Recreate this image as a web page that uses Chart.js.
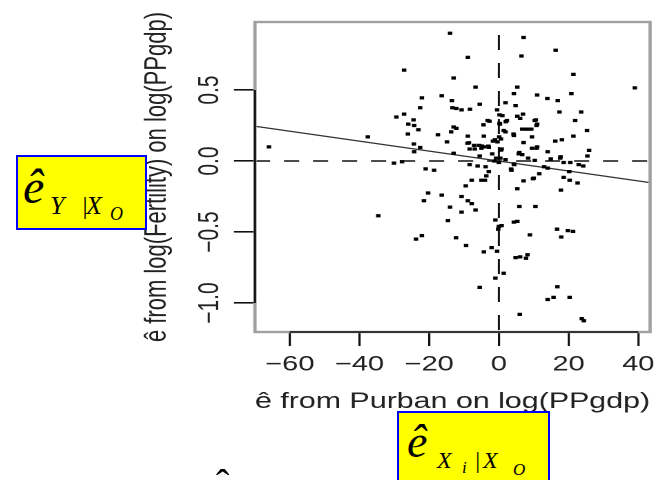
<!DOCTYPE html>
<html>
<head>
<meta charset="utf-8">
<script src="https://cdn.jsdelivr.net/npm/chart.js@4.4.1/dist/chart.umd.min.js"></script>
<style>
  body { margin: 0; width: 656px; height: 480px; overflow: hidden; background: #fff; position: relative; }
  /* the original R plot was pasted in stretched sideways, so the canvas is too */
  #wrap { position: absolute; left: 0; top: 0; width: 475px; height: 480px; transform: scaleX(1.3811); transform-origin: 0 0; }
  .note { position: absolute; background: #ffff00; border: 2px solid #0000ff; box-sizing: border-box;
          font-family: "Liberation Serif", serif; font-style: italic; color: #000; }
  .note span, .hat { position: absolute; line-height: 1; white-space: nowrap; }
  .hat { font-family: "Liberation Serif", serif; color: #000; }
</style>
</head>
<body>
<div id="wrap"><canvas id="avPlot"></canvas></div>

<div class="note" style="left:16px; top:155px; width:131px; height:75px;">
  <span style="left:5px; top:6px; font-size:48px;">ê</span>
  <span style="left:32px; top:36px; font-size:26px;">Y</span>
  <span style="left:63px; top:36px; font-size:26px;">|</span>
  <span style="left:68px; top:36px; font-size:26px;">X</span>
  <span style="left:92px; top:48px; font-size:18px;">O</span>
</div>

<div class="note" style="left:397px; top:411px; width:153px; height:80px;">
  <span style="left:8px; top:6px; font-size:46px;">ê</span>
  <span style="left:38px; top:35px; font-size:24px;">X</span>
  <span style="left:63px; top:46px; font-size:17px;">i</span>
  <span style="left:75px; top:35px; font-size:24px;">|</span>
  <span style="left:84px; top:35px; font-size:24px;">X</span>
  <span style="left:114px; top:48px; font-size:17px;">O</span>
</div>

<span class="hat" style="left:216px; top:464px; font-size:40px;">ˆ</span>

<script>
// residuals of log(Fertility) and Purban, both on log(PPgdp)
const residX = [
  -14.0, 7.1, -8.9, 6.5, 16.3, -27.2, -13.0, 21.4, -6.7, 5.3,
  39.0, -16.4, -22.1, 4.3, 11.0, 20.8, 13.9, 16.9, -13.5, -5.5,
  1.9, 4.8, -22.6, -13.3, -12.2, -10.7, -8.3, 17.4, 23.6, -27.2,
  -29.4, -0.5, 0.2, 1.0, 5.3, 6.9, 6.1, -24.5, -26.0, -24.3,
  -23.1, -26.1, -3.2, -2.7, -4.4, 0.2, 2.3, 10.3, 11.0, 21.9,
  -13.0, -12.2, -13.7, -17.5, 1.4, 1.9, 4.2, 6.7, 8.4, 9.3,
  9.5, 25.3, 21.4, -8.9, -4.3, -37.6, 0.6, -1.1, -1.7, -0.4,
  16.2, 18.1, -14.9, -9.0, -7.1, -5.7, -4.3, -3.0, -8.4, -6.9,
  -5.0, 0.8, 7.1, 5.9, 9.5, 11.0, 14.0, 25.9, 25.4, -24.4,
  -24.3, -22.6, -66.0, -13.0, -5.5, -1.9, -0.8, 0.4, 1.9, 6.7,
  8.4, 10.3, 14.9, 17.7, 18.6, 20.5, 22.9, 24.2, -30.1, -27.8,
  -8.4, -6.1, -3.8, 0.0, 4.4, -1.3, -21.0, -18.6, -2.9, 3.6,
  11.6, 14.0, 20.2, 18.6, 20.3, 22.6, -3.6, -7.8, -5.0, -4.0,
  7.1, 9.8, -9.5, 5.3, 17.8, -20.3, -16.4, -10.7, -21.5, -8.9,
  -7.8, -14.0, -10.7, -6.7, 5.9, 10.5, -34.6, -14.6, -1.0, 4.3,
  5.3, 0.0, 0.8, -0.2, 16.7, 19.8, 21.3, 17.9, 8.9, -23.8,
  -22.1, -12.3, -9.4, -4.3, -2.1, -0.5, 4.8, 6.1, 7.8, 8.2,
  -1.0, 1.4, -5.5, 16.8, 14.0, 15.7, 20.3, 6.0, 23.8, 24.4,
  2.0, 0.3, 10.6, 10.8, 7.6, 0.1, 4.3, 0.6, 10.8, 5.7,
  17.6, 4.3, 13.0, 3.5, 10.0, -8.6, -4.9, -2.9
];
const residY = [
  0.90, 0.87, 0.73, 0.74, 0.78, 0.64, 0.585, 0.61, 0.52, 0.52,
  0.515, 0.46, 0.445, 0.475, 0.465, 0.475, 0.44, 0.425, 0.425, 0.40,
  0.41, 0.39, 0.375, 0.375, 0.37, 0.36, 0.365, 0.345, 0.345, 0.33,
  0.31, 0.36, 0.325, 0.32, 0.315, 0.33, 0.30, 0.29, 0.26, 0.25,
  0.22, 0.19, 0.285, 0.28, 0.255, 0.265, 0.285, 0.285, 0.26, 0.285,
  0.24, 0.23, 0.205, 0.185, 0.215, 0.205, 0.19, 0.225, 0.225, 0.225,
  0.17, 0.215, 0.175, 0.175, 0.175, 0.17, 0.155, 0.15, 0.14, 0.135,
  0.14, 0.15, 0.135, 0.125, 0.11, 0.11, 0.10, 0.105, 0.085, 0.085,
  0.09, 0.085, 0.13, 0.06, 0.09, 0.10, 0.065, 0.075, 0.035, 0.12,
  0.065, 0.095, 0.10, 0.055, 0.035, 0.05, 0.02, 0.02, 0.01, 0.045,
  0.02, 0.005, 0.015, 0.03, -0.01, -0.01, -0.025, -0.035, -0.015, -0.005,
  -0.025, -0.035, -0.04, -0.01, -0.025, 0.0, -0.055, -0.065, -0.075, -0.065,
  -0.09, -0.05, -0.075, -0.115, -0.135, -0.155, -0.105, -0.135, -0.135, -0.135,
  -0.14, -0.125, -0.175, -0.195, -0.205, -0.225, -0.24, -0.25, -0.28, -0.28,
  -0.30, -0.325, -0.36, -0.345, -0.32, -0.32, -0.385, -0.42, -0.415, -0.43,
  -0.425, -0.46, -0.455, -0.48, -0.48, -0.49, -0.495, -0.535, -0.52, -0.55,
  -0.525, -0.54, -0.595, -0.64, -0.61, -0.635, -0.68, -0.675, -0.685, -0.66,
  -0.825, -0.79, -0.89, -0.885, -0.975, -0.96, -0.96, -1.08, -1.11, -1.125,
  0.277, 0.26, 0.29, 0.25, 0.225, 0.17, 0.18, 0.077, 0.09, 0.05,
  0.02, -0.02, -0.04, -0.056, -0.12, 0.129, 0.106, 0.096
];

const fitX = [-70, 43.4];
const fitY = [0.245, -0.152];

const xTickValues = [-60, -40, -20, 0, 20, 40];
const yTickValues = [-1.0, -0.5, 0.0, 0.5];
const xRange = [-70, 43.4];
const yRange = [-1.204, 0.979];

const fontFamily = '"Liberation Sans", Arial, sans-serif';

function fmt(v, digits) {
    return (v < 0 ? '\u2212' : '') + Math.abs(v).toFixed(digits);
}

// grey box round the plot, black axis lines only from first to last tick (R style)
const framePlugin = {
    id: 'frame',
    afterDatasetsDraw(chart) {
        const { ctx, chartArea: a, scales: { x, y } } = chart;
        ctx.save();
        ctx.strokeStyle = '#a0a0a0';
        ctx.lineWidth = 2.4;
        ctx.strokeRect(a.left, a.top, a.right - a.left, a.bottom - a.top);
        ctx.strokeStyle = '#111';
        ctx.lineWidth = 1.6;
        ctx.beginPath();
        ctx.moveTo(a.left, y.getPixelForValue(yTickValues[0]));
        ctx.lineTo(a.left, y.getPixelForValue(yTickValues[yTickValues.length - 1]));
        ctx.moveTo(x.getPixelForValue(xTickValues[0]), a.bottom);
        ctx.lineTo(x.getPixelForValue(xTickValues[xTickValues.length - 1]), a.bottom);
        ctx.stroke();
        ctx.restore();
    }
};

const ctx = document.getElementById('avPlot').getContext('2d');
new Chart(ctx, {
    type: 'scatter',
    data: {
        datasets: [
            {
                label: 'residuals',
                data: residX.map((v, i) => ({ x: v, y: residY[i] })),
                pointStyle: 'rect',
                pointRadius: 2.3,
                backgroundColor: '#000',
                borderWidth: 0
            },
            {
                label: 'fit',
                data: fitX.map((v, i) => ({ x: v, y: fitY[i] })),
                showLine: true,
                pointRadius: 0,
                borderColor: '#333',
                borderWidth: 1.2
            },
            {
                label: 'zero y',
                data: [{ x: xRange[0], y: 0 }, { x: xRange[1], y: 0 }],
                showLine: true,
                pointRadius: 0,
                borderColor: '#111',
                borderWidth: 1.5,
                borderDash: [11, 10]
            },
            {
                label: 'zero x',
                data: [{ x: 0, y: yRange[1] }, { x: 0, y: yRange[0] }],
                showLine: true,
                pointRadius: 0,
                borderColor: '#111',
                borderWidth: 1.5,
                borderDash: [15, 13],
                borderDashOffset: 15
            }
        ]
    },
    options: {
        responsive: true,
        maintainAspectRatio: false,
        devicePixelRatio: 2,
        animation: false,
        layout: { padding: { left: 0, right: 4.3, top: 22, bottom: 0 } },
        plugins: { legend: { display: false }, tooltip: { enabled: false } },
        scales: {
            x: {
                type: 'linear',
                min: xRange[0],
                max: xRange[1],
                afterBuildTicks: s => { s.ticks = xTickValues.map(v => ({ value: v })); },
                afterFit: s => { s.height = 148; s.paddingLeft = 0; s.paddingRight = 0; },
                grid: { drawOnChartArea: false, drawTicks: true, tickLength: 14, color: '#111', lineWidth: 1.6 },
                border: { display: false },
                ticks: {
                    font: { family: fontFamily, size: 21 },
                    color: '#222',
                    padding: 6,
                    maxRotation: 0,
                    autoSkip: false,
                    callback: v => fmt(v, 0)
                },
                title: {
                    display: true,
                    text: 'ê from Purban on log(PPgdp)',
                    font: { family: fontFamily, size: 22 },
                    color: '#222',
                    padding: { top: 0, bottom: 65 }
                }
            },
            y: {
                type: 'linear',
                min: yRange[0],
                max: yRange[1],
                afterBuildTicks: s => { s.ticks = yTickValues.map(v => ({ value: v })); },
                afterFit: s => { s.width = 184.6; s.paddingTop = 0; s.paddingBottom = 0; },
                grid: { drawOnChartArea: false, drawTicks: true, tickLength: 15.2, color: '#111', lineWidth: 1.6 },
                border: { display: false },
                ticks: {
                    font: { family: fontFamily, size: 21 },
                    color: '#222',
                    minRotation: 90,
                    maxRotation: 90,
                    crossAlign: 'center',
                    padding: -3.5,
                    autoSkip: false,
                    callback: v => fmt(v, 1)
                },
                title: {
                    display: true,
                    text: 'ê from log(Fertility) on log(PPgdp)',
                    font: { family: fontFamily, size: 22 },
                    color: '#222',
                    padding: { top: 100.5, bottom: 0 }
                }
            }
        }
    },
    plugins: [framePlugin]
});
</script>
</body>
</html>
